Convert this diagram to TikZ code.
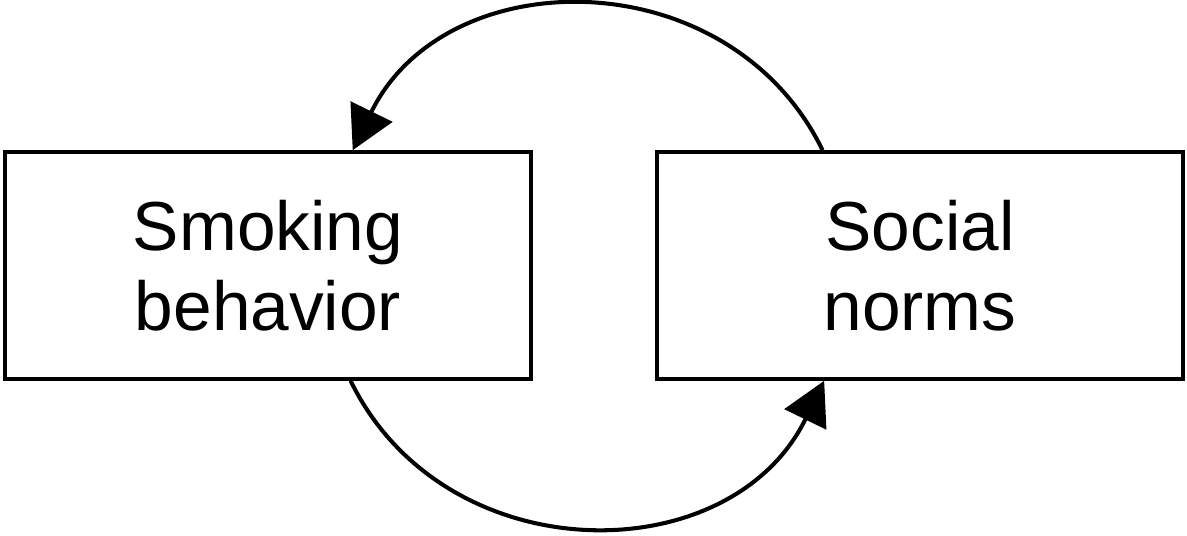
\documentclass[tikz,border=0pt]{standalone}
\usepackage{fontspec}
\setmainfont{Liberation Sans}
\usetikzlibrary{arrows.meta, positioning, calc}

\begin{document}
\begin{tikzpicture}[
    x=0.02cm, y=0.02cm,
    box/.style={draw, line width=2.1pt, minimum width=10.52cm, minimum height=4.54cm, align=center, font=\fontsize{39.5}{45.5}\selectfont},
    loop/.style={line width=2.3pt, -{Triangle[length=0.86cm, width=0.92cm]}}
  ]
  \useasboundingbox (0, 0) rectangle (1187, 536);

  % Boxes
  \node[box] (smoking) at (268, 270.5) {Smoking\\behavior};
  \node[box] (norms) at (920, 270.5) {Social\\norms};

  % Arc ends on the boxes
  \coordinate (normstop) at ($(norms.north west)!0.316!(norms.north east)$);
  \coordinate (normsbot) at ($(norms.south west)!0.319!(norms.south east)$);
  \coordinate (smoketop) at ($(smoking.north west)!0.66!(smoking.north east)$);
  \coordinate (smokebot) at ($(smoking.south west)!0.656!(smoking.south east)$);

  % Feedback loop
  \draw[loop] (normstop) to[bend right=64, looseness=1.16] (smoketop);
  \draw[loop] (smokebot) to[bend right=64, looseness=1.16] (normsbot);
\end{tikzpicture}
\end{document}
